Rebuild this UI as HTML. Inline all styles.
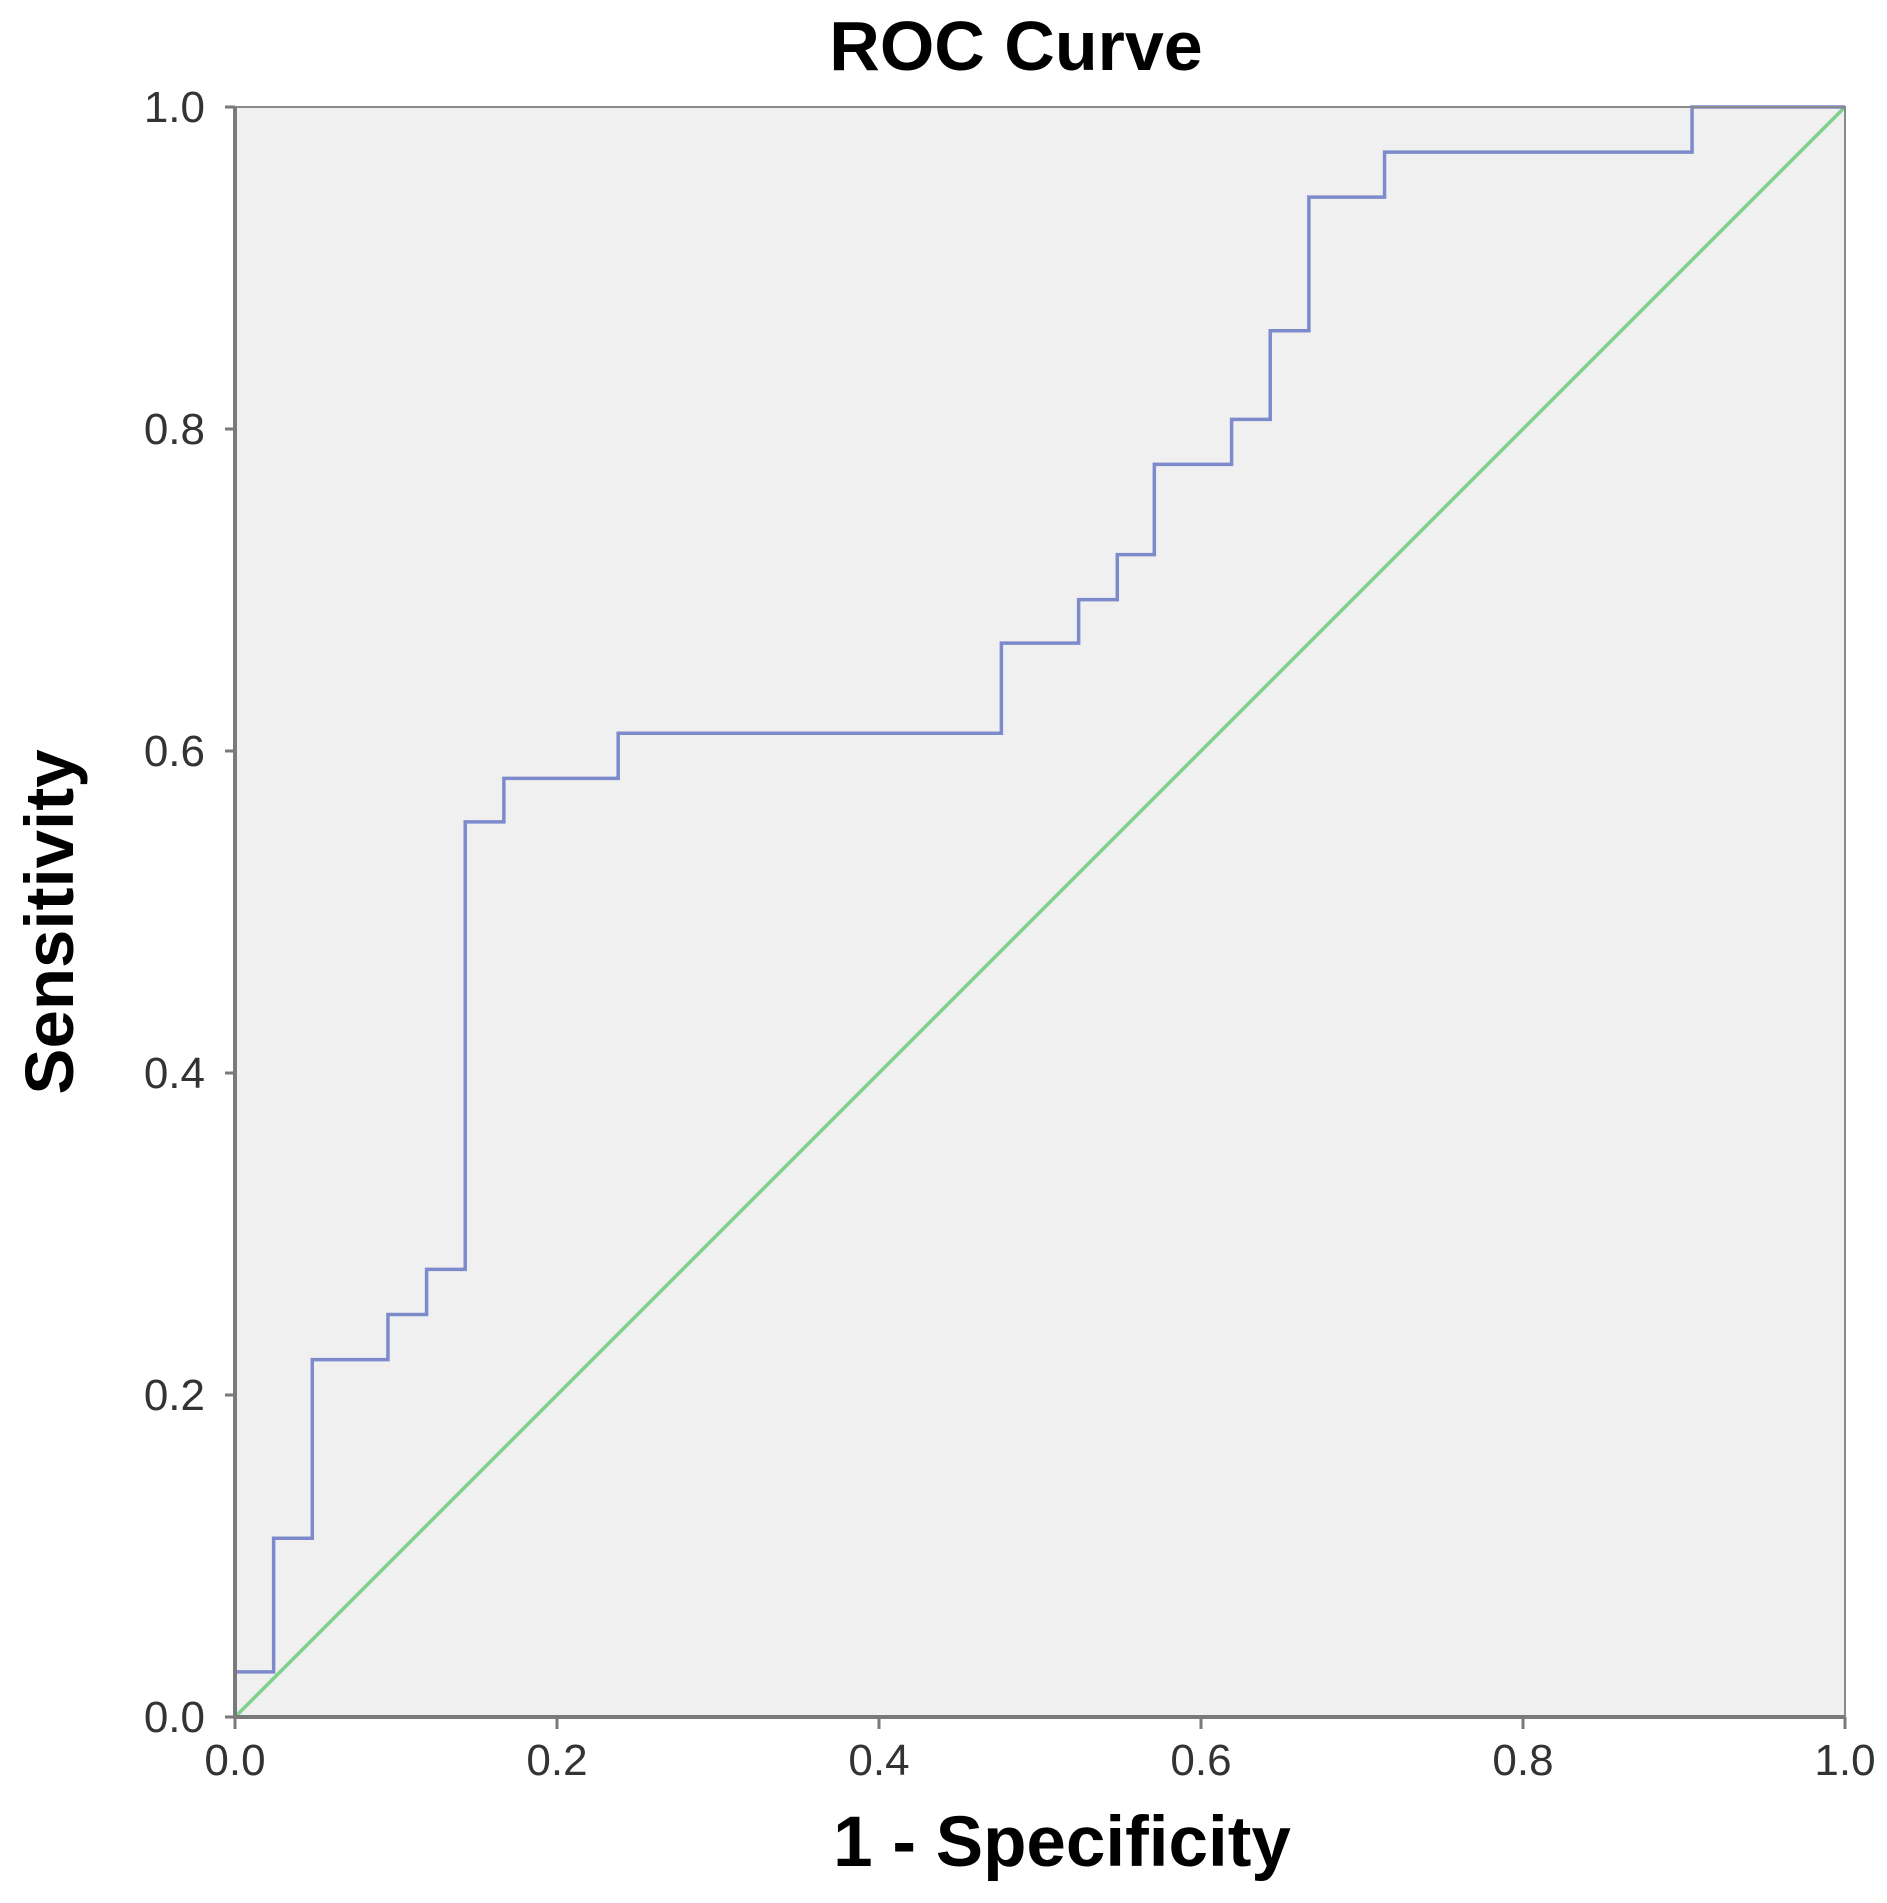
<!DOCTYPE html>
<html><head><meta charset="utf-8"><style>
html,body{margin:0;padding:0;background:#fff;}
svg{display:block;font-family:"Liberation Sans",Arial,sans-serif;}
</style></head><body>
<svg id="chart" width="1887" height="1903" viewBox="0 0 1887 1903" xmlns="http://www.w3.org/2000/svg">
<text x="1016" y="70" font-size="70" font-weight="bold" text-anchor="middle" fill="#000">ROC Curve</text>
<rect x="235" y="107" width="1610" height="1610" fill="#f0f0f0"/>
<g id="marks"></g>
<text x="1062" y="1866" font-size="71" font-weight="bold" text-anchor="middle" fill="#000">1 - Specificity</text>
<text transform="translate(73,922) rotate(-90)" font-size="69" font-weight="bold" text-anchor="middle" fill="#000">Sensitivity</text>
</svg>
<script>
const ticks = [0, 0.2, 0.4, 0.6, 0.8, 1.0];
const tickLabels = ["0.0","0.2","0.4","0.6","0.8","1.0"];
const fpr = [0,0,0.024,0.024,0.048,0.048,0.095,0.095,0.119,0.119,0.143,0.143,0.167,0.167,0.238,0.238,0.476,0.476,0.524,0.524,0.548,0.548,0.571,0.571,0.619,0.619,0.643,0.643,0.667,0.667,0.714,0.714,0.905,0.905,1];
const tpr = [0,0.028,0.028,0.111,0.111,0.222,0.222,0.25,0.25,0.278,0.278,0.556,0.556,0.583,0.583,0.611,0.611,0.667,0.667,0.694,0.694,0.722,0.722,0.778,0.778,0.806,0.806,0.861,0.861,0.944,0.944,0.972,0.972,1,1];
const refX = [0, 1];
const refY = [0, 1];

const L=235,T=107,W=1610,H=1610;
const sx=v=>L+v*W, sy=v=>T+H-v*H;
const NS="http://www.w3.org/2000/svg";
const g=document.getElementById('marks');
function mk(tag,attrs){const e=document.createElementNS(NS,tag);for(const k in attrs)e.setAttribute(k,attrs[k]);g.appendChild(e);return e;}

const ref=mk('polyline',{points:refX.map((x,i)=>sx(x)+','+sy(refY[i])).join(' '),fill:'none',stroke:'#7ed08a','stroke-width':3.5});


const roc=mk('polyline',{points:fpr.map((x,i)=>sx(x)+','+sy(tpr[i])).join(' '),fill:'none',stroke:'#7d8bcc','stroke-width':3.5});



const fr=mk('rect',{x:L,y:T,width:W,height:H,fill:'none',stroke:'#8a8a8a','stroke-width':2});


const ax=mk('path',{d:`M${L},${T} V${T+H} H${L+W}`,fill:'none',stroke:'#7a7a7a','stroke-width':4});



ticks.forEach((t,i)=>{
  const a=mk('line',{x1:L-10,x2:L,y1:sy(t),y2:sy(t),stroke:'#7a7a7a','stroke-width':3});
  
  
  const b=mk('text',{x:L-30,y:sy(t)+15,'font-size':44,'text-anchor':'end',fill:'#333'});
  b.textContent=tickLabels[i];
  
  
  const c=mk('line',{x1:sx(t),x2:sx(t),y1:T+H,y2:T+H+12,stroke:'#7a7a7a','stroke-width':3});
  
  
  const d=mk('text',{x:sx(t),y:T+H+58,'font-size':44,'text-anchor':'middle',fill:'#333'});
  d.textContent=tickLabels[i];
  
  
});
</script>
</body></html>
